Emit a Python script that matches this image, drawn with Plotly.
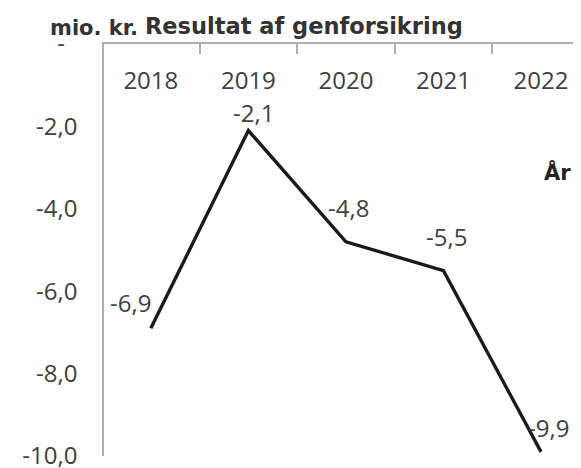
import plotly.graph_objects as go

years = ["2018", "2019", "2020", "2021", "2022"]
values = [-6.9, -2.1, -4.8, -5.5, -9.9]
ytick_vals = [0, -2, -4, -6, -8, -10]
ytick_text = ["-\u00a0\u00a0", "-2,0", "-4,0", "-6,0", "-8,0", "-10,0"]

title_text = "Resultat af genforsikring"
unit_text = "mio. kr."
xaxis_label = "År"

FONT = "Open Sans"
BOLD_FONT = "DejaVu Sans"
TXT = "#404040"
AX = "#b0b0b0"

fig = go.Figure()
fig.add_trace(go.Scatter(
    x=years, y=values, mode="lines",
    line=dict(color="#1a1a1a", width=3.4),
    hoverinfo="skip", showlegend=False,
))

# data labels with per-point pixel offsets
offsets = [(-20, 26), (5, 18), (3, 34), (3, 34), (7, 24)]
for i, (v, (dx, dy)) in enumerate(zip(values, offsets)):
    fig.add_annotation(
        x=i, y=v, xref="x", yref="y",
        text=f"{v:.1f}".replace(".", ","),
        showarrow=False, xshift=dx, yshift=dy,
        font=dict(family=FONT, size=24, color=TXT),
    )

fig.add_annotation(
    text=f"<b>{unit_text}</b>", xref="paper", yref="paper",
    x=-0.117, y=1.0, xanchor="left", yanchor="middle", yshift=16,
    showarrow=False, font=dict(family=BOLD_FONT, size=21, color="#333333"),
)
fig.add_annotation(
    text=f"<b>{xaxis_label}</b>", xref="paper", yref="paper",
    x=0.918, y=0.687, xanchor="left", yanchor="middle",
    showarrow=False, font=dict(family=BOLD_FONT, size=21, color="#222222"),
)

fig.update_layout(
    width=573, height=460,
    margin=dict(l=96, r=0, t=36, b=12),
    paper_bgcolor="white", plot_bgcolor="white",
    separators=",.",
    title=dict(
        text=f"<b>{title_text}</b>", xref="container", yref="container",
        x=137 / 573, xanchor="left", y=1 - 18 / 460, yanchor="middle",
        font=dict(family=BOLD_FONT, size=22.5, color="#333333"),
    ),
    xaxis=dict(
        type="category", side="top", range=[-0.48, 4.41],
        showline=True, linecolor=AX, linewidth=1.5,
        ticks="inside", ticklen=10, tickcolor=AX, tickwidth=1.5,
        tickson="boundaries", ticklabelposition="inside",
        ticklabelstandoff=20, ticklabeloverflow="allow",
        tickfont=dict(family=FONT, size=24, color=TXT),
        showgrid=False, zeroline=False, automargin=False,
    ),
    yaxis=dict(
        range=[-10, 0], tickvals=ytick_vals, ticktext=ytick_text,
        showline=True, linecolor=AX, linewidth=1.5,
        ticks="", ticklabelstandoff=20, ticklabeloverflow="allow",
        tickfont=dict(family=FONT, size=24, color=TXT),
        showgrid=False, zeroline=False, automargin=False,
    ),
)

fig.write_html("out.html")
